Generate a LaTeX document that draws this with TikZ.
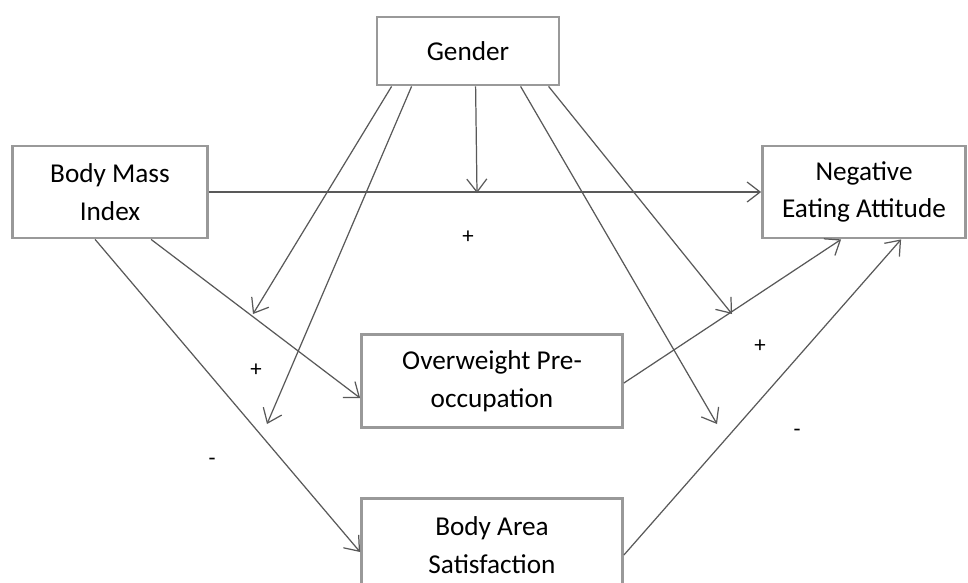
\documentclass[tikz,border=0pt]{standalone}
\usepackage{fontspec}
\setmainfont{Carlito}
\usetikzlibrary{calc,arrows.meta}

\begin{document}
\begin{tikzpicture}[x=0.2mm,y=-0.2mm,
    box/.style={draw=black!40, line width=1.6pt, fill=white, align=center,
      inner sep=0pt, font=\fontsize{15.5}{21.5}\selectfont},
    link/.style={-{Straight Barb[length=2.6mm,width=4mm]}, draw=black!65, line width=0.7pt},
    sign/.style={font=\fontsize{13}{13}\selectfont, inner sep=0pt}]
    \useasboundingbox (0,0) rectangle (968,582);
    % boxes
    \node (gender) at (468,51) [box, minimum width=36.4mm, minimum height=13.6mm] {Gender};
    \node (bmi) at (110,192) [box, minimum width=39mm, minimum height=18.4mm] {Body Mass\\Index};
    \node (nea) at (864,192) [box, minimum width=40.6mm, minimum height=18.4mm] {Negative\\Eating Attitude};
    \node (owp) at (492,381) [box, minimum width=52.2mm, minimum height=18.6mm] {Overweight Pre-\\occupation};
    \node (bas) at (492,545) [box, minimum width=52.2mm, minimum height=18.6mm] {Body Area\\Satisfaction};

    % free ends of the gender arrows
    \coordinate (m1) at (253,314);
    \coordinate (m2) at (267,424);
    \coordinate (m3) at (477,193);
    \coordinate (m4) at (717,424);
    \coordinate (m5) at (732,314);

    % main paths
    \draw[link] (bmi.east) -- (nea.west);
    \draw[link] ($(bmi.south west)+(140,0)$) -- ($(owp.west)+(0,17)$);
    \draw[link] ($(bmi.south west)+(84,0)$) -- ($(bas.west)+(0,7)$);
    \draw[link] ($(owp.east)+(0,2)$) -- ($(nea.south west)+(80,0)$);
    \draw[link] ($(bas.east)+(0,10)$) -- ($(nea.south west)+(140,0)$);

    % gender
    \draw[link] ($(gender.south west)+(16,0)$) -- (m1);
    \draw[link] ($(gender.south west)+(36,0)$) -- (m2);
    \draw[link] ($(gender.south west)+(100,0)$) -- (m3);
    \draw[link] ($(gender.south west)+(145,0)$) -- (m4);
    \draw[link] ($(gender.south west)+(173,0)$) -- (m5);

    % signs
    \node (s1) at (468,237) [sign] {+};
    \node (s2) at (256,370) [sign] {+};
    \node (s3) at (212,462) [sign] {-};
    \node (s4) at (760,346) [sign] {+};
    \node (s5) at (797,433) [sign] {-};
\end{tikzpicture}
\end{document}
